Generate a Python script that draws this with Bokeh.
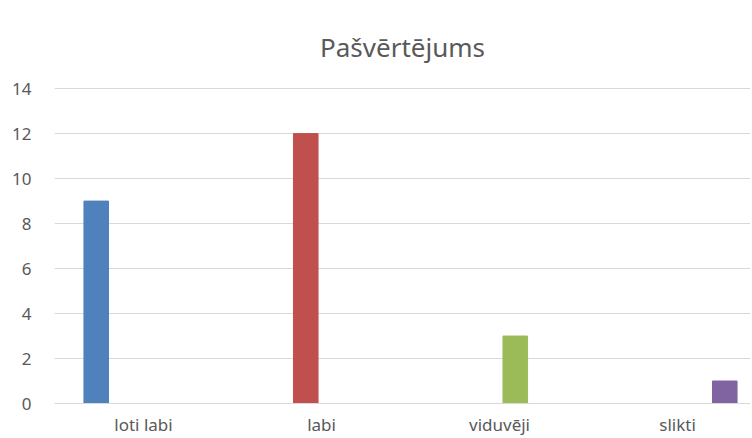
from bokeh.plotting import figure
from bokeh.models import Range1d, FixedTicker, ColumnDataSource
from bokeh.embed import file_html
from bokeh.resources import INLINE

title_text = "Pašvērtējums"
categories = ["loti labi", "labi", "viduvēji", "slikti"]
series_names = ["loti labi", "labi", "viduvēji", "slikti"]
values = [9, 12, 3, 1]
colors = ["#4F81BD", "#C0504D", "#9BBB59", "#8064A2"]
y_ticks = [0, 2, 4, 6, 8, 10, 12, 14]

n_series = len(series_names)
step = 0.177
bar_w = 0.138

p = figure(width=750, height=438, output_backend="svg", toolbar_location=None,
           x_range=Range1d(0, 3.91), y_range=Range1d(0, 14.05),
           min_border_left=54, min_border_right=0, min_border_top=87, min_border_bottom=30)

xs = [i + 0.5 + (i - (n_series - 1) / 2) * step for i in range(len(categories))]
src = ColumnDataSource(dict(x=xs, top=values, color=colors, name=series_names))
p.vbar(x="x", top="top", width=bar_w, bottom=0, color="color", line_color="color", source=src)

p.title.text = title_text
p.title.align = "center"
p.title.text_font = "Noto Sans"
p.title.text_font_size = "26px"
p.title.text_font_style = "normal"
p.title.text_color = "#595959"
p.title.standoff = 45

p.outline_line_color = None
p.xgrid.grid_line_color = None
p.ygrid.grid_line_color = "#d9d9d9"
p.ygrid.ticker = FixedTicker(ticks=y_ticks)

p.xaxis.ticker = FixedTicker(ticks=[i + 0.5 for i in range(len(categories))])
p.xaxis.major_label_overrides = {i + 0.5: c for i, c in enumerate(categories)}
p.xaxis.axis_line_color = "#d9d9d9"
p.xaxis.major_tick_line_color = None
p.xaxis.minor_tick_line_color = None
p.xaxis.major_label_standoff = 3
p.xaxis.major_label_text_font = "Noto Sans"
p.xaxis.major_label_text_font_size = "17px"
p.xaxis.major_label_text_color = "#595959"

p.yaxis.ticker = FixedTicker(ticks=y_ticks)
p.yaxis.axis_line_color = None
p.yaxis.major_tick_line_color = None
p.yaxis.minor_tick_line_color = None
p.yaxis.major_label_standoff = 17
p.yaxis.major_label_text_font = "Noto Sans"
p.yaxis.major_label_text_font_size = "17px"
p.yaxis.major_label_text_color = "#595959"

open("out.html", "w").write(file_html(p, INLINE))
